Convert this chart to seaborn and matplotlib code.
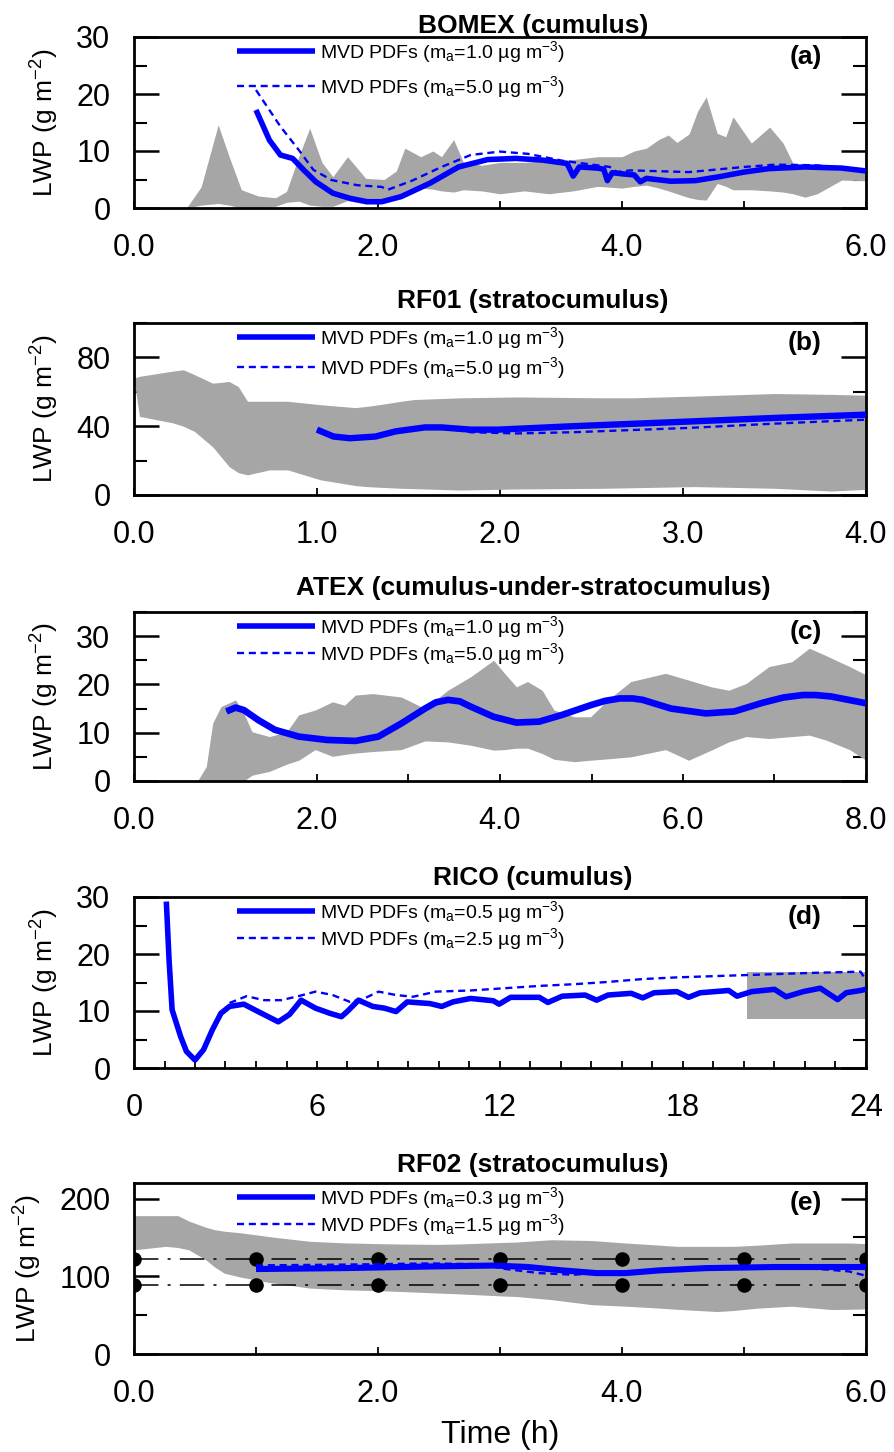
import numpy as np
import pandas as pd
import matplotlib
matplotlib.use("Agg")
import matplotlib.pyplot as plt
import seaborn as sns
from matplotlib.ticker import MultipleLocator, FormatStrFormatter

sns.set_style("white")
plt.rcParams["font.family"] = ["Liberation Sans", "DejaVu Sans"]
plt.rcParams["mathtext.default"] = "regular"
for k in ["text.color", "axes.labelcolor", "xtick.color", "ytick.color", "axes.edgecolor"]:
    plt.rcParams[k] = "black"

# ---------------- data ----------------
titles = ["BOMEX (cumulus)", "RF01 (stratocumulus)", "ATEX (cumulus-under-stratocumulus)",
          "RICO (cumulus)", "RF02 (stratocumulus)"]
panel_tags = ["(a)", "(b)", "(c)", "(d)", "(e)"]
legend_ma = [("1.0", "5.0"), ("1.0", "5.0"), ("1.0", "5.0"), ("0.5", "2.5"), ("0.3", "1.5")]

# (a) BOMEX
a_band_t = [0.43, 0.55, 0.69, 0.78, 0.88, 1.02, 1.16, 1.25, 1.35, 1.44, 1.54, 1.63, 1.75, 1.9, 2.05,
            2.15, 2.22, 2.35, 2.45, 2.52, 2.62, 2.7, 2.85, 3.0, 3.2, 3.4, 3.6, 3.8, 4.0, 4.1, 4.2, 4.3,
            4.38, 4.45, 4.55, 4.62, 4.69, 4.78, 4.85, 4.91, 5.06, 5.21, 5.32, 5.4, 5.5, 5.6, 5.7, 5.8, 6.0]
a_band_hi = [0.0, 3.7, 14.6, 9.0, 3.2, 2.1, 1.8, 2.9, 9.0, 14.0, 8.0, 5.5, 9.0, 5.2, 5.0,
             6.5, 10.5, 9.0, 10.0, 9.0, 12.0, 8.0, 7.5, 8.0, 8.0, 8.3, 8.5, 9.0, 9.0, 10.0, 10.5, 12.0,
             12.8, 11.5, 13.0, 17.0, 19.5, 13.1, 12.5, 16.0, 11.4, 14.2, 11.4, 7.9, 7.5, 7.0, 6.8, 6.6, 6.8]
a_band_lo = [0.0, 0.5, 0.8, 0.5, 0.0, 0.0, 0.3, 1.0, 1.2, 0.5, 0.3, 0.3, 1.3, 0.7, 1.5,
             2.0, 2.5, 3.5, 3.3, 3.0, 2.8, 3.2, 3.0, 2.5, 3.0, 2.5, 3.0, 3.8, 3.5, 3.8, 4.0, 3.5,
             3.0, 2.5, 1.8, 1.5, 1.4, 4.3, 3.8, 3.2, 3.2, 3.0, 2.8, 2.5, 1.9, 2.5, 3.7, 4.9, 4.8]
a_solid_t = [1.0, 1.11, 1.2, 1.3, 1.39, 1.49, 1.63, 1.77, 1.91, 2.03, 2.19, 2.43, 2.66, 2.9, 3.13,
             3.35, 3.55, 3.6, 3.65, 3.8, 3.85, 3.88, 3.92, 4.0, 4.1, 4.15, 4.2, 4.4, 4.6, 4.8, 5.0,
             5.2, 5.5, 5.8, 6.0]
a_solid_y = [17.2, 11.9, 9.3, 8.7, 6.7, 4.6, 2.6, 1.7, 1.1, 1.1, 2.0, 4.4, 7.2, 8.5, 8.7,
             8.4, 7.8, 5.6, 7.2, 7.0, 6.8, 4.8, 6.2, 6.0, 5.8, 4.6, 5.2, 4.7, 4.8, 5.5, 6.3,
             6.9, 7.2, 7.0, 6.5]
a_dot_t = [1.0, 1.2, 1.35, 1.47, 1.62, 1.83, 2.03, 2.08, 2.28, 2.52, 2.76, 3.0, 3.23, 3.51, 3.9,
           3.96, 4.07, 4.55, 5.0, 5.25, 5.58, 6.0]
a_dot_y = [20.7, 14.3, 10.2, 6.7, 4.9, 4.0, 3.7, 3.2, 4.8, 7.2, 9.3, 9.9, 9.5, 8.3, 7.2,
           6.3, 6.6, 6.3, 7.2, 7.6, 7.5, 6.7]

# (b) RF01
b_band_t = [0.0, 0.03, 0.21, 0.27, 0.33, 0.43, 0.52, 0.57, 0.62, 0.74, 0.84, 1.02, 1.21, 1.27, 1.34,
            1.46, 1.53, 1.78, 2.09, 2.56, 2.72, 3.06, 3.5, 3.81, 4.0]
b_band_hi = [68.0, 69.0, 72.0, 72.8, 70.0, 65.0, 66.0, 63.0, 54.5, 54.5, 54.5, 52.5, 50.8, 51.5, 52.5,
             54.5, 55.5, 56.5, 57.0, 56.5, 56.5, 57.5, 59.0, 58.5, 58.0]
b_band_lo = [67.0, 45.7, 42.0, 40.0, 37.0, 28.0, 16.5, 13.0, 11.7, 14.6, 14.6, 8.8, 5.5, 4.9, 4.5,
             3.9, 3.7, 2.9, 3.5, 3.9, 4.2, 4.9, 3.9, 2.3, 3.3]
b_solid_t = [1.0, 1.09, 1.18, 1.32, 1.43, 1.59, 1.68, 1.84, 1.99, 2.4, 3.03, 3.5, 4.0]
b_solid_y = [38.0, 34.0, 33.0, 34.0, 37.0, 39.3, 39.3, 38.0, 38.0, 40.0, 42.7, 44.8, 46.7]
b_dot_t = [1.0, 1.09, 1.18, 1.32, 1.43, 1.59, 1.68, 1.84, 2.09, 2.4, 3.03, 3.5, 4.0]
b_dot_y = [38.0, 34.0, 33.0, 34.0, 37.0, 39.3, 39.0, 36.5, 35.8, 36.5, 39.0, 41.5, 43.8]

# (c) ATEX
c_band_t = [0.7, 0.79, 0.86, 0.95, 1.11, 1.2, 1.29, 1.48, 1.67, 1.8, 1.98, 2.17, 2.3, 2.42, 2.61,
            2.92, 3.18, 3.43, 3.68, 3.93, 4.05, 4.18, 4.3, 4.46, 4.59, 4.81, 4.99, 5.18, 5.43, 5.81,
            6.06, 6.31, 6.5, 6.69, 6.94, 7.19, 7.38, 7.56, 7.82, 8.0]
c_band_hi = [0.2, 3.0, 12.0, 15.4, 16.8, 14.0, 10.2, 9.2, 10.2, 13.7, 14.7, 16.4, 15.7, 17.8, 18.1,
             17.4, 15.0, 18.8, 21.6, 25.0, 22.3, 19.5, 20.6, 18.8, 14.7, 13.3, 13.3, 16.8, 20.6, 22.3,
             20.9, 19.5, 18.8, 20.2, 23.7, 24.7, 27.5, 26.0, 23.7, 22.0]
c_band_lo = [0.0, 0.0, 0.0, 0.0, 0.0, 0.0, 1.2, 2.0, 3.5, 4.3, 6.5, 5.1, 5.5, 5.8, 6.1,
             6.5, 8.3, 8.1, 7.4, 6.4, 6.5, 6.8, 6.8, 5.7, 4.5, 4.0, 4.3, 4.6, 5.0, 6.5,
             4.3, 6.4, 8.1, 9.2, 8.8, 9.2, 9.5, 8.5, 6.5, 4.3]
c_solid_t = [1.01, 1.11, 1.2, 1.36, 1.54, 1.8, 2.11, 2.42, 2.67, 2.92, 3.18, 3.3, 3.43, 3.56, 3.68,
             3.93, 4.18, 4.43, 4.68, 4.99, 5.15, 5.31, 5.45, 5.56, 5.87, 6.25, 6.56, 6.87, 7.1, 7.31,
             7.45, 7.62, 8.0]
c_solid_y = [14.4, 15.2, 14.7, 12.6, 10.6, 9.2, 8.5, 8.3, 9.2, 11.9, 15.0, 16.3, 16.8, 16.5, 15.4,
             13.3, 12.1, 12.3, 13.7, 15.7, 16.6, 17.1, 17.1, 16.8, 15.0, 14.0, 14.4, 16.2, 17.3, 17.8,
             17.8, 17.5, 16.1]
c_dot_t = c_solid_t
c_dot_y = c_solid_y

# (d) RICO
d_box_t = [20.1, 24.0]
d_box_lo = [8.6, 8.6]
d_box_hi = [16.8, 16.8]
d_solid_t = [1.06, 1.15, 1.25, 1.53, 1.72, 2.0, 2.28, 2.57, 2.85, 3.13, 3.6, 4.07, 4.73, 5.1, 5.48,
             5.95, 6.42, 6.8, 6.99, 7.36, 7.83, 8.21, 8.59, 8.96, 9.71, 10.09, 10.46, 11.03, 11.78,
             11.97, 12.35, 13.29, 13.57, 14.04, 14.79, 15.17, 15.54, 16.3, 16.68, 17.05, 17.8, 18.18,
             18.56, 19.5, 19.77, 20.25, 21.0, 21.38, 21.94, 22.5, 23.07, 23.35, 23.82, 24.0]
d_solid_y = [29.2, 18.9, 10.2, 5.5, 2.9, 1.4, 3.2, 6.7, 9.6, 10.8, 11.2, 9.9, 8.1, 9.4, 11.9,
             10.5, 9.6, 9.0, 9.9, 11.9, 10.8, 10.5, 9.9, 11.6, 11.3, 10.8, 11.6, 12.2, 11.8,
             11.2, 12.4, 12.4, 11.5, 12.6, 12.8, 11.9, 12.8, 13.1, 12.3, 13.2, 13.4, 12.4,
             13.2, 13.6, 12.6, 13.4, 13.8, 12.5, 13.4, 14.0, 12.0, 13.2, 13.6, 13.8]
d_dot_t = [3.13, 3.69, 4.26, 4.83, 5.39, 5.95, 6.51, 7.08, 7.55, 8.02, 8.59, 9.15, 9.9, 11.03, 12.16,
           13.29, 14.42, 15.54, 16.67, 17.8, 18.93, 20.06, 21.19, 22.32, 23.82, 24.0]
d_dot_y = [11.4, 12.6, 11.9, 11.9, 12.6, 13.4, 12.8, 11.6, 12.2, 13.4, 12.8, 12.5, 13.4, 13.6, 14.0,
           14.4, 14.7, 15.1, 15.6, 15.9, 16.1, 16.3, 16.5, 16.7, 16.9, 15.4]

# (e) RF02
e_band_t = [0.0, 0.26, 0.36, 0.45, 0.59, 0.66, 0.74, 0.87, 0.92, 1.11, 1.16, 1.44, 1.72, 2.0, 2.19,
            2.48, 2.66, 3.04, 3.13, 3.42, 3.75, 4.03, 4.31, 4.45, 4.78, 4.92, 5.11, 5.39, 5.72, 5.86, 6.0]
e_band_hi = [178, 178, 178, 171, 163, 160, 158, 156, 155, 151, 150, 145, 143, 142, 141.5,
             141, 141.5, 143.6, 144, 147, 146, 142.8, 140, 138.5, 138.5, 138.5, 140, 142.8, 142.8, 142.8, 142]
e_band_lo = [134, 138.5, 137, 134, 121, 112, 104, 99, 97.6, 92, 91, 84.8, 82.6, 81.5, 80.4,
             78.5, 77.4, 74.5, 74, 70, 63.5, 61.5, 59, 57.5, 54.6, 56, 59, 61.5, 57.2, 57.5, 58]
e_solid_t = [1.0, 1.72, 2.43, 2.95, 3.23, 3.51, 3.79, 4.03, 4.31, 4.69, 5.25, 5.72, 6.0]
e_solid_y = [109.3, 110.5, 112.6, 113.8, 111.9, 107.6, 104.1, 104.1, 107.6, 110.5, 111.9, 111.9, 111.9]
e_dot_t = [1.0, 1.72, 2.43, 2.85, 3.04, 3.32, 3.6, 3.89, 4.31, 4.78, 5.25, 5.62, 5.86, 6.0]
e_dot_y = [114.0, 115.0, 116.5, 115.5, 109.5, 104.1, 102.0, 105.0, 108.4, 110.5, 111.9, 109.3, 106.3, 100.7]
e_ref_levels = [122.5, 88.5]
e_ref_hours = [0, 1, 2, 3, 4, 5, 6]

# axis setups
x_limits = [(0, 6), (0, 4), (0, 8), (0, 24), (0, 6)]
x_major = [2.0, 1.0, 2.0, 6.0, 2.0]
x_minor = [1.0, 1.0, 1.0, 1.0, 1.0]
x_fmt = ["%.1f", "%.1f", "%.1f", "%d", "%.1f"]
y_limits = [(0, 30), (0, 100), (0, 35), (0, 30), (0, 220)]
y_major = [10, 40, 10, 10, 100]
y_minor = [5, 20, 5, 5, 50]

bands = [(a_band_t, a_band_lo, a_band_hi), (b_band_t, b_band_lo, b_band_hi),
         (c_band_t, c_band_lo, c_band_hi), (d_box_t, d_box_lo, d_box_hi),
         (e_band_t, e_band_lo, e_band_hi)]
solids = [(a_solid_t, a_solid_y), (b_solid_t, b_solid_y), (c_solid_t, c_solid_y),
          (d_solid_t, d_solid_y), (e_solid_t, e_solid_y)]
dots = [(a_dot_t, a_dot_y), (b_dot_t, b_dot_y), (c_dot_t, c_dot_y),
        (d_dot_t, d_dot_y), (e_dot_t, e_dot_y)]

# ---------------- layout ----------------
W, H = 895, 1452
fig = plt.figure(figsize=(W / 100, H / 100), dpi=100)
ax_left, ax_right = 134, 866
tops = [37, 323, 612, 897, 1183]
bottoms = [208, 495, 781, 1068, 1354]
title_gap = [4, 15, 17, 12, 11]
legend_gap = [0.42, 0.15, 0.02, 0.02, 0.0]
solid_lw = [4.0, 4.6, 4.8, 4.0, 4.4]

blue = "#0000ff"
gray = "#a6a6a6"

for i in range(5):
    ax = fig.add_axes([ax_left / W, 1 - bottoms[i] / H, (ax_right - ax_left) / W,
                       (bottoms[i] - tops[i]) / H])
    bt, blo, bhi = bands[i]
    ax.fill_between(bt, blo, bhi, color=gray, linewidth=0, zorder=1)

    if i == 4:
        for lev in e_ref_levels:
            sns.lineplot(x=e_ref_hours, y=[lev] * len(e_ref_hours), ax=ax, color="black",
                         linewidth=1.1, linestyle=(0, (16, 6, 2, 6)), zorder=2,
                         estimator=None, sort=False)
            sns.scatterplot(x=e_ref_hours, y=[lev] * len(e_ref_hours), ax=ax, color="black",
                            s=110, edgecolor="black", linewidth=0, zorder=3)

    st, sy = solids[i]
    dt, dy = dots[i]
    lo_lab = r"MVD PDFs (m$_a$=" + legend_ma[i][0] + r" µg m$^{-3}$)"
    hi_lab = r"MVD PDFs (m$_a$=" + legend_ma[i][1] + r" µg m$^{-3}$)"
    sns.lineplot(x=dt, y=dy, ax=ax, color=blue, linewidth=1.7, linestyle=(0, (3.0, 2.0)),
                 label=hi_lab, zorder=4, estimator=None, sort=False)
    sns.lineplot(x=st, y=sy, ax=ax, color=blue, linewidth=solid_lw[i], label=lo_lab, zorder=5,
                 estimator=None, sort=False, solid_capstyle="butt", solid_joinstyle="round")

    handles, labels = ax.get_legend_handles_labels()
    hmap = dict(zip(labels, handles))
    leg = ax.legend([hmap[lo_lab], hmap[hi_lab]], [lo_lab, hi_lab], loc="upper left",
                    bbox_to_anchor=((235 - ax_left) / (ax_right - ax_left), 1.0), frameon=False,
                    fontsize=14, handlelength=4.0, handletextpad=0.25, borderpad=0.1,
                    borderaxespad=0.0, labelspacing=legend_gap[i] + 0.05)
    for ln in leg.get_lines():
        if ln.get_linestyle() == "-":
            ln.set_linewidth(4.0)

    ax.set_xlim(*x_limits[i])
    ax.set_ylim(*y_limits[i])
    ax.xaxis.set_major_locator(MultipleLocator(x_major[i]))
    ax.xaxis.set_minor_locator(MultipleLocator(x_minor[i]))
    ax.xaxis.set_major_formatter(FormatStrFormatter(x_fmt[i]))
    ax.yaxis.set_major_locator(MultipleLocator(y_major[i]))
    ax.yaxis.set_minor_locator(MultipleLocator(y_minor[i]))

    ax.tick_params(axis="y", which="major", direction="in", length=18, width=1.8,
                   left=True, right=True, labelsize=22, pad=17)
    ax.tick_params(axis="y", which="minor", direction="in", length=9.5, width=1.5,
                   left=True, right=True)
    ax.tick_params(axis="x", which="both", direction="in", length=5, width=1.3,
                   bottom=True, top=False, labelsize=22, pad=18)
    for sp in ax.spines.values():
        sp.set_linewidth(2.0)
        sp.set_color("black")
        sp.set_visible(True)

    ax.set_ylabel(r"LWP (g m$^{-2}$)", fontsize=19, labelpad=11)
    ax.set_xlabel("")
    if i == 4:
        ax.set_xlabel("Time (h)", fontsize=23, labelpad=8)

    ax.annotate(titles[i], xy=(0.545, 1.0), xycoords="axes fraction",
                xytext=(0, title_gap[i]), textcoords="offset pixels",
                ha="center", va="baseline", fontsize=19, fontweight="bold")
    ax.annotate(panel_tags[i], xy=(1.0, 1.0), xycoords="axes fraction",
                xytext=(-44, -20), textcoords="offset pixels",
                ha="right", va="center", fontsize=19, fontweight="bold")

fig.savefig("out.png", dpi=100)
